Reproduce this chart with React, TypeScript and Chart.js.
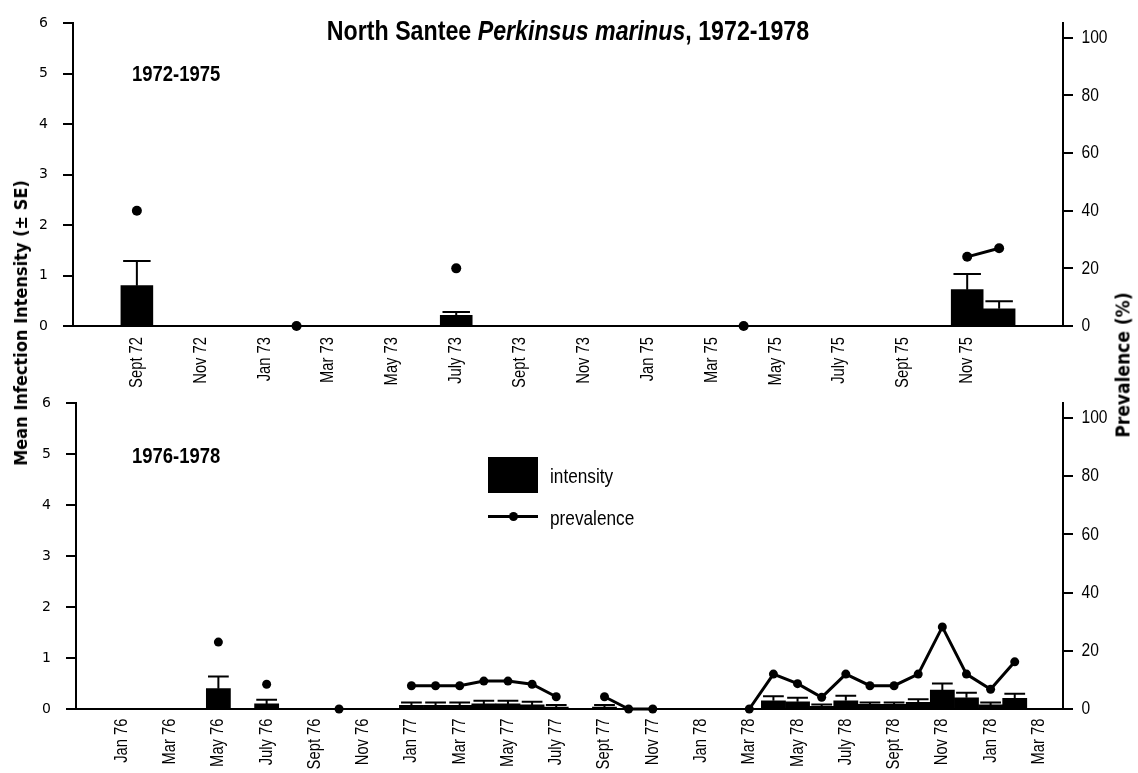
import React, { useEffect, useRef } from 'react';
import { Chart, registerables } from 'chart.js';

Chart.register(...registerables);

const LIB = "'Liberation Sans', Arial, sans-serif";
const CONDENSED = "'DejaVu Sans Condensed', 'Liberation Sans', sans-serif";
const SQUEEZE = 0.82;

// ---------- Top panel: 1972-1975 (monthly slots, 1974 omitted from the axis) ----------
const topMonths = [
  'Sept 72', 'Oct 72', 'Nov 72', 'Dec 72', 'Jan 73', 'Feb 73', 'Mar 73', 'Apr 73', 'May 73', 'June 73',
  'July 73', 'Aug 73', 'Sept 73', 'Oct 73', 'Nov 73', 'Dec 73', 'Jan 75', 'Feb 75', 'Mar 75', 'Apr 75',
  'May 75', 'June 75', 'July 75', 'Aug 75', 'Sept 75', 'Oct 75', 'Nov 75', 'Dec 75',
];
const topTickLabels = [
  'Sept 72', 'Nov 72', 'Jan 73', 'Mar 73', 'May 73', 'July 73', 'Sept 73', 'Nov 73',
  'Jan 75', 'Mar 75', 'May 75', 'July 75', 'Sept 75', 'Nov 75',
];
const topIntensity = [
  0.80, null, null, null, null, 0, null, null, null, null,
  0.21, null, null, null, null, null, null, null, null, 0,
  null, null, null, null, null, null, 0.72, 0.34,
];
const topSE = [
  0.49, null, null, null, null, 0, null, null, null, null,
  0.07, null, null, null, null, null, null, null, null, 0,
  null, null, null, null, null, null, 0.31, 0.15,
];
const topPrevalence = [
  40, null, null, null, null, 0, null, null, null, null,
  20, null, null, null, null, null, null, null, null, 0,
  null, null, null, null, null, null, 24, 27,
];

// ---------- Bottom panel: 1976-1978 ----------
const bottomMonths = [
  'Jan 76', 'Feb 76', 'Mar 76', 'Apr 76', 'May 76', 'June 76', 'July 76', 'Aug 76', 'Sept 76', 'Oct 76',
  'Nov 76', 'Dec 76', 'Jan 77', 'Feb 77', 'Mar 77', 'Apr 77', 'May 77', 'June 77', 'July 77', 'Aug 77',
  'Sept 77', 'Oct 77', 'Nov 77', 'Dec 77', 'Jan 78', 'Feb 78', 'Mar 78', 'Apr 78', 'May 78', 'June 78',
  'July 78', 'Aug 78', 'Sept 78', 'Oct 78', 'Nov 78', 'Dec 78', 'Jan 79', 'Feb 79',
];
const bottomTickLabels = [
  'Jan 76', 'Mar 76', 'May 76', 'July 76', 'Sept 76', 'Nov 76', 'Jan 77', 'Mar 77', 'May 77', 'July 77',
  'Sept 77', 'Nov 77', 'Jan 78', 'Mar 78', 'May 78', 'July 78', 'Sept 78', 'Nov 78', 'Jan 78', 'Mar 78',
];
const bottomIntensity = [
  null, null, null, null, 0.40, null, 0.10, null, null, 0,
  null, null, 0.07, 0.07, 0.07, 0.10, 0.10, 0.08, 0.04, null,
  0.04, 0, 0, null, null, null, 0, 0.16, 0.14, 0.05,
  0.16, 0.09, 0.09, 0.13, 0.37, 0.22, 0.08, 0.21,
];
const bottomSE = [
  null, null, null, null, 0.24, null, 0.08, null, null, 0,
  null, null, 0.06, 0.06, 0.06, 0.06, 0.06, 0.06, 0.04, null,
  0.04, 0, 0, null, null, null, 0, 0.09, 0.08, 0.04,
  0.10, 0.04, 0.04, 0.06, 0.13, 0.10, 0.05, 0.09,
];
const bottomPrevalence = [
  null, null, null, null, 23, null, 8.5, null, null, 0,
  null, null, 8, 8, 8, 9.6, 9.6, 8.5, 4.2, null,
  4.2, 0, 0, null, null, null, 0, 12, 8.7, 4,
  12, 8, 8, 12, 28.2, 12, 6.8, 16.2,
];

const intensityTicks = [0, 1, 2, 3, 4, 5, 6];
const prevalenceTicks = [0, 20, 40, 60, 80, 100];

const errorBarPlugin = {
  id: 'errorBars',
  afterDatasetDraw(chart: any, args: any) {
    const ds = chart.data.datasets[args.index];
    if (!ds.errorBars) return;
    const meta = args.meta;
    const yScale = chart.scales[meta.yAxisID];
    const ctx = chart.ctx;
    ctx.save();
    ctx.strokeStyle = '#000';
    ctx.lineWidth = 2;
    meta.data.forEach((el: any, i: number) => {
      const v = ds.data[i] ? ds.data[i].y : null;
      const e = ds.errorBars[i];
      if (v == null || e == null || e <= 0) return;
      const top = yScale.getPixelForValue(v + e);
      const half = el.width * 0.43;
      ctx.beginPath();
      ctx.moveTo(el.x, el.y);
      ctx.lineTo(el.x, top);
      ctx.moveTo(el.x - half, top);
      ctx.lineTo(el.x + half, top);
      ctx.stroke();
    });
    ctx.restore();
  },
};

// Narrow (condensed) tick labels for the month axis and the prevalence axis,
// placed with the chart's own scales.
const narrowTicksPlugin = {
  id: 'narrowTicks',
  afterDraw(chart: any, _args: any, opts: any) {
    const ctx = chart.ctx;
    const xs = chart.scales.x;
    const ys = chart.scales.y2;
    ctx.save();
    ctx.fillStyle = '#000';
    ctx.font = `${opts.size}px ${LIB}`;
    ctx.textBaseline = 'middle';
    ctx.textAlign = 'right';
    opts.labels.forEach((lab: string, k: number) => {
      const px = xs.getPixelForValue(k * 2);
      const py = xs.top + opts.xPad;
      ctx.save();
      ctx.translate(px, py);
      ctx.rotate(-Math.PI / 2);
      ctx.scale(SQUEEZE, 1);
      ctx.fillText(lab, 0, 0);
      ctx.restore();
    });
    ctx.font = `${opts.ySize}px ${LIB}`;
    ctx.textAlign = 'left';
    prevalenceTicks.forEach((v) => {
      const py = ys.getPixelForValue(v);
      ctx.save();
      ctx.translate(ys.left + opts.yPad, py);
      ctx.scale(SQUEEZE, 1);
      ctx.fillText(String(v), 0, 0);
      ctx.restore();
    });
    ctx.restore();
  },
};

function buildConfig(p: any) {
  const { months, intensity, se, prevalence, tickLabels, xMin, xMax, leftW, rightW, padTop, xH, xPad, pointR } = p;
  return {
    type: 'bar',
    data: {
      datasets: [
        {
          type: 'bar',
          label: 'intensity',
          data: months.map((_m: string, i: number) => ({ x: i, y: intensity[i] })),
          backgroundColor: '#000',
          borderWidth: 0,
          barPercentage: 1,
          categoryPercentage: 1,
          yAxisID: 'y',
          order: 2,
          errorBars: se,
        },
        {
          type: 'line',
          label: 'prevalence',
          data: months.map((_m: string, i: number) => ({ x: i, y: prevalence[i] })),
          borderColor: '#000',
          backgroundColor: '#000',
          borderWidth: 3,
          pointRadius: pointR,
          pointBackgroundColor: '#000',
          pointBorderWidth: 0,
          spanGaps: false,
          tension: 0,
          yAxisID: 'y2',
          order: 1,
          clip: false,
        },
      ],
    },
    options: {
      animation: false,
      responsive: false,
      devicePixelRatio: 1,
      layout: { padding: { top: padTop, left: 0, right: 0, bottom: 0 } },
      plugins: {
        legend: { display: false },
        tooltip: { enabled: false },
        title: { display: false },
        narrowTicks: { labels: tickLabels, xPad, size: 18, ySize: 19, yPad: 18.5 },
      },
      scales: {
        x: {
          type: 'linear',
          position: 'bottom',
          min: xMin,
          max: xMax,
          offset: false,
          afterBuildTicks: (s: any) => {
            const t = [];
            for (let v = Math.ceil(xMin); v <= Math.floor(xMax); v++) t.push({ value: v });
            s.ticks = t;
          },
          afterFit: (s: any) => { s.height = xH; },
          grid: { display: false, drawTicks: false },
          border: { display: true, color: '#000', width: 2 },
          ticks: { display: false, autoSkip: false },
        },
        y: {
          position: 'left',
          min: 0,
          max: 6,
          afterBuildTicks: (s: any) => { s.ticks = intensityTicks.map((v) => ({ value: v })); },
          afterFit: (s: any) => { s.width = leftW; },
          grid: { drawOnChartArea: false, drawTicks: true, tickLength: 10, color: '#000', lineWidth: 2 },
          border: { display: true, color: '#000', width: 2 },
          ticks: { padding: 15, color: '#000', font: { family: "'DejaVu Sans', sans-serif", size: 14 } },
        },
        y2: {
          position: 'right',
          min: 0,
          max: 105,
          afterBuildTicks: (s: any) => { s.ticks = prevalenceTicks.map((v) => ({ value: v })); },
          afterFit: (s: any) => { s.width = rightW; },
          grid: { drawOnChartArea: false, drawTicks: true, tickLength: 10, color: '#000', lineWidth: 2 },
          border: { display: true, color: '#000', width: 2 },
          ticks: { display: false },
        },
      },
    },
    plugins: [errorBarPlugin, narrowTicksPlugin],
  };
}

const abs = (extra: any) => ({ position: 'absolute', whiteSpace: 'nowrap', lineHeight: 1, color: '#000', ...extra });
const narrowLeft = { transform: `scaleX(${SQUEEZE})`, transformOrigin: 'left top' };

export default function App() {
  const topRef = useRef<HTMLCanvasElement>(null);
  const botRef = useRef<HTMLCanvasElement>(null);

  useEffect(() => {
    const top = new Chart(topRef.current as any, buildConfig({
      months: topMonths, intensity: topIntensity, se: topSE, prevalence: topPrevalence,
      tickLabels: topTickLabels, xMin: -2, xMax: 29, leftW: 73, rightW: 75, padTop: 16, xH: 69, xPad: 11, pointR: 5,
    }) as any);
    const bot = new Chart(botRef.current as any, buildConfig({
      months: bottomMonths, intensity: bottomIntensity, se: bottomSE, prevalence: bottomPrevalence,
      tickLabels: bottomTickLabels, xMin: -1.9, xMax: 39, leftW: 76, rightW: 75, padTop: 19, xH: 64, xPad: 9.5, pointR: 4.5,
    }) as any);
    return () => { top.destroy(); bot.destroy(); };
  }, []);

  return (
    <div style={{ position: 'absolute', left: 0, top: 0, width: 1138, height: 773, background: '#fff', overflow: 'hidden' } as any}>
      <canvas ref={topRef} width={1138} height={395} style={{ position: 'absolute', left: 0, top: 0 }} />
      <canvas ref={botRef} width={1138} height={393} style={{ position: 'absolute', left: 0, top: 380 }} />

      <div style={abs({ left: 567.5, top: 16, transform: `translateX(-50%) scaleX(${SQUEEZE})`, fontFamily: LIB, fontWeight: 'bold', fontSize: 28.3 })}>
        North Santee <i>Perkinsus marinus</i>, 1972-1978
      </div>
      <div style={abs({ left: 132, top: 62.7, ...narrowLeft, fontFamily: LIB, fontWeight: 'bold', fontSize: 22.5 })}>1972-1975</div>
      <div style={abs({ left: 132, top: 445, ...narrowLeft, fontFamily: LIB, fontWeight: 'bold', fontSize: 22.5 })}>1976-1978</div>

      <div style={abs({ left: 21, top: 323, transform: 'translate(-50%, -50%) rotate(-90deg)', fontFamily: CONDENSED, fontWeight: 'bold', fontSize: 18 })}>
        Mean Infection Intensity (± SE)
      </div>
      <div style={abs({ left: 1123, top: 365, transform: 'translate(-50%, -50%) rotate(-90deg)', fontFamily: CONDENSED, fontWeight: 'bold', fontSize: 19 })}>
        Prevalence (%)
      </div>

      {/* legend */}
      <div style={{ position: 'absolute', left: 488, top: 457, width: 50, height: 36, background: '#000' }} />
      <div style={abs({ left: 550, top: 465, ...narrowLeft, fontFamily: LIB, fontSize: 21 })}>intensity</div>
      <div style={{ position: 'absolute', left: 488, top: 515, width: 50, height: 3, background: '#000' }} />
      <div style={{ position: 'absolute', left: 508.5, top: 512, width: 9, height: 9, borderRadius: 5, background: '#000' }} />
      <div style={abs({ left: 550, top: 507.2, ...narrowLeft, fontFamily: LIB, fontSize: 21 })}>prevalence</div>
    </div>
  );
}
